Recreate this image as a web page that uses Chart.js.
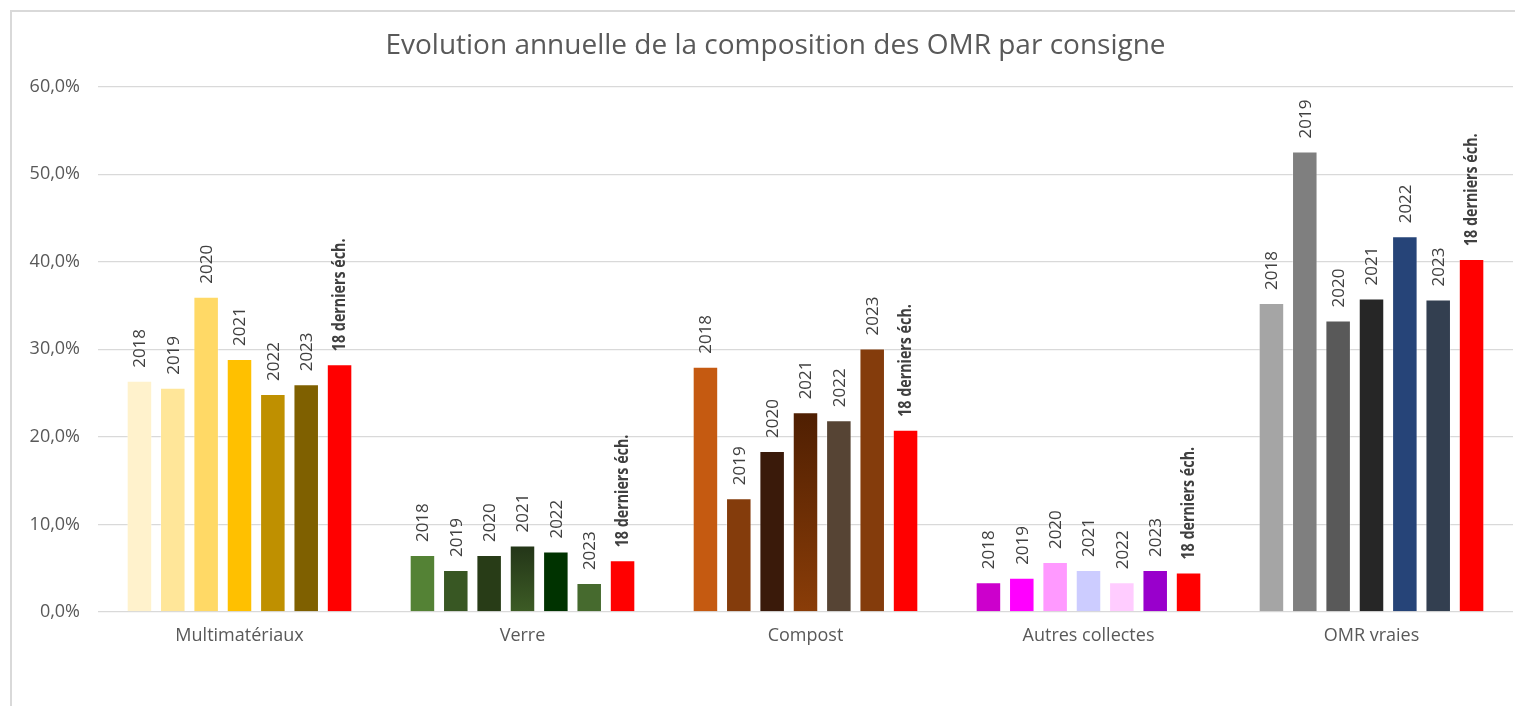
<!DOCTYPE html>
<html lang="fr">
<head>
<meta charset="utf-8">
<title>Evolution annuelle de la composition des OMR par consigne</title>
<script src="https://cdn.jsdelivr.net/npm/chart.js@4.4.0/dist/chart.umd.min.js"></script>
<style>
  html, body { margin: 0; padding: 0; background: #fff; overflow: hidden; }
  #wrap { position: relative; width: 1515px; height: 706px; overflow: hidden; }
  #frame { position: absolute; left: 10px; top: 10px; width: 1600px; height: 800px;
           border: 2px solid #d9d9d9; box-sizing: border-box; }
  #chart { position: absolute; left: 0; top: 0; }
</style>
</head>
<body>
<div id="wrap">
  <div id="frame"></div>
  <canvas id="chart" width="1551" height="706"></canvas>
</div>
<script>
// catégories et séries
const categories = ['Multimatériaux', 'Verre', 'Compost', 'Autres collectes', 'OMR vraies'];
const seriesLabels = ['2018', '2019', '2020', '2021', '2022', '2023', '18 derniers éch.'];

// valeurs en %
const values2018 = [26.4, 6.5, 28.0, 3.4, 35.3];
const values2019 = [25.6, 4.8, 13.0, 3.9, 52.6];
const values2020 = [36.0, 6.5, 18.4, 5.7, 33.3];
const values2021 = [28.9, 7.6, 22.8, 4.8, 35.8];
const values2022 = [24.9, 6.9, 21.9, 3.4, 42.9];
const values2023 = [26.0, 3.3, 30.1, 4.8, 35.7];
const valuesLast18 = [28.3, 5.9, 20.8, 4.5, 40.3];

const yTicks = [0, 10, 20, 30, 40, 50, 60];

// couleurs par catégorie (une par série)
const colorsMulti = ['#FFF2CC', '#FFE699', '#FFD966', '#FFC000', '#BF9000', '#7F6000', '#FF0000'];
const colorsVerre = ['#548235', '#385723', '#283C17', '#2F4A1C', '#003300', '#466A2E', '#FF0000'];
const colorsCompost = ['#C55A11', '#843C0C', '#3A1A0A', '#6B2E0A', '#564434', '#843C0C', '#FF0000'];
const colorsAutres = ['#CC00CC', '#FF00FF', '#FF99FF', '#CCCCFF', '#FFCCFF', '#9900CC', '#FF0000'];
const colorsOmr = ['#A5A5A5', '#7F7F7F', '#595959', '#262626', '#264478', '#333F50', '#FF0000'];

// barres en dégradé (2021 Verre et Compost) : [haut, bas]
const gradients = {
    '1-3': ['#233518', '#3D5C25'],
    '2-3': ['#4F1F02', '#8A3D08']
};

const allValues = [values2018, values2019, values2020, values2021, values2022, values2023, valuesLast18];
const categoryColors = [colorsMulti, colorsVerre, colorsCompost, colorsAutres, colorsOmr];

function barColor(context) {
    const i = context.datasetIndex;
    const j = context.dataIndex;
    const g = gradients[j + '-' + i];
    if (!g || !context.parsed) return categoryColors[j][i];
    const chart = context.chart;
    const yScale = chart.scales.y;
    const top = yScale.getPixelForValue(context.parsed.y);
    const bottom = yScale.getPixelForValue(0);
    if (!isFinite(top)) return categoryColors[j][i];
    const grad = chart.ctx.createLinearGradient(0, top, 0, bottom);
    grad.addColorStop(0, g[0]);
    grad.addColorStop(1, g[1]);
    return grad;
}

const datasets = seriesLabels.map((label, i) => ({
    label: label,
    data: allValues[i],
    backgroundColor: barColor,
    borderColor: 'rgba(255,255,255,0.35)',
    borderWidth: 1,
    categoryPercentage: 0.825,
    barPercentage: 0.765
}));

// étiquettes verticales au-dessus des barres (nom de la série)
const seriesNamePlugin = {
    id: 'seriesName',
    afterDatasetsDraw(chart) {
        const ctx = chart.ctx;
        ctx.save();
        ctx.fillStyle = '#404040';
        chart.data.datasets.forEach((ds, i) => {
            const meta = chart.getDatasetMeta(i);
            const bold = i === chart.data.datasets.length - 1;
            ctx.font = bold ? 'bold 17px "Open Sans"' : '17px "Open Sans"';
            meta.data.forEach(bar => {
                ctx.save();
                ctx.translate(bar.x + 1, bar.y - 13);
                ctx.rotate(-Math.PI / 2);
                if (bold) ctx.scale(0.84, 1);
                ctx.textAlign = 'left';
                ctx.textBaseline = 'middle';
                ctx.fillText(ds.label, 0, 0);
                ctx.restore();
            });
        });
        ctx.restore();
    }
};

new Chart(document.getElementById('chart'), {
    type: 'bar',
    data: { labels: categories, datasets: datasets },
    options: {
        responsive: false,
        animation: false,
        layout: { padding: 0 },
        plugins: {
            legend: { display: false },
            tooltip: { enabled: false },
            title: {
                display: true,
                text: 'Evolution annuelle de la composition des OMR par consigne',
                color: '#595959',
                font: { family: 'Open Sans', size: 28, weight: 'normal' },
                padding: { top: 29, bottom: 24 }
            }
        },
        scales: {
            x: {
                grid: { display: false },
                border: { display: false },
                ticks: {
                    color: '#595959',
                    font: { family: 'Open Sans', size: 18 },
                    padding: 5
                },
                afterFit(scale) { scale.height = 94; }
            },
            y: {
                min: 0,
                max: 60,
                afterBuildTicks(scale) { scale.ticks = yTicks.map(v => ({ value: v })); },
                grid: { color: '#D9D9D9', lineWidth: 1.3, drawTicks: false },
                border: { display: false },
                ticks: {
                    color: '#595959',
                    font: { family: 'Open Sans', size: 18 },
                    padding: 18,
                    callback: v => v.toFixed(1).replace('.', ',') + '%'
                },
                afterFit(scale) { scale.width = 98; }
            },
            // marge droite du cadre (sans graduations)
            yRight: {
                position: 'right',
                grid: { display: false },
                border: { display: false },
                ticks: { display: false },
                afterFit(scale) { scale.width = 38; }
            }
        }
    },
    plugins: [seriesNamePlugin]
});
</script>
</body>
</html>
